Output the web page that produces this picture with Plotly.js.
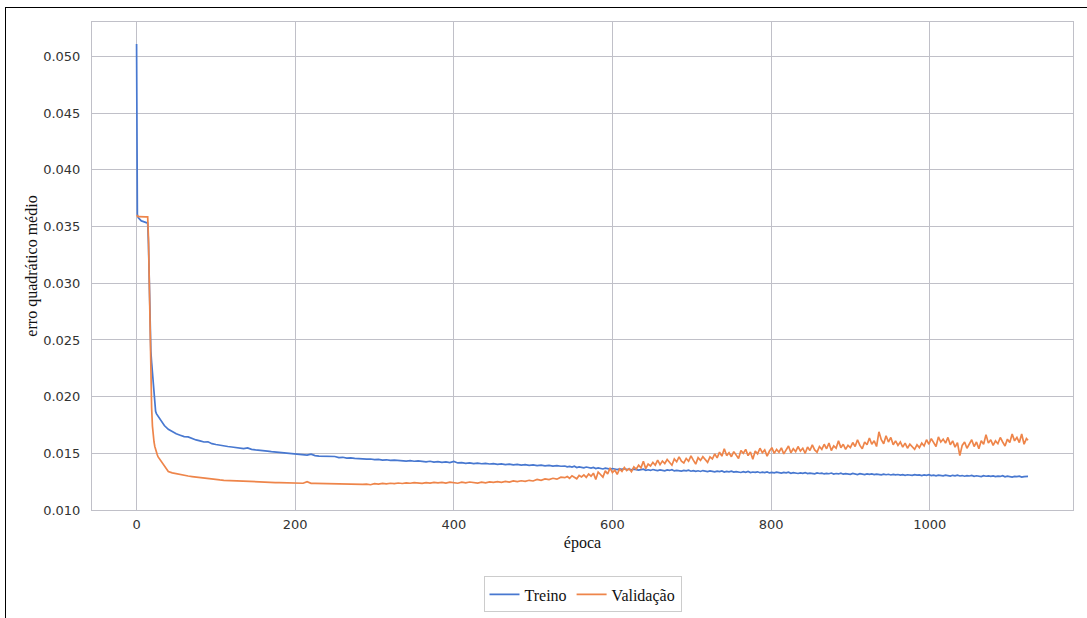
<!DOCTYPE html>
<html>
<head>
<meta charset="utf-8">
<script src="https://cdn.plot.ly/plotly-3.0.1.min.js"></script>
<style>
  html, body { margin: 0; padding: 0; background: #fff; }
  #wrap { position: relative; width: 1087px; height: 618px; overflow: hidden; }
  #chart { position: absolute; left: 0; top: 0; width: 1087px; height: 618px; }
  #frame { position: absolute; left: 5px; top: 7px; width: 1090px; height: 620px;
           border-left: 1.5px solid #000; border-top: 1.5px solid #000; pointer-events: none; }
</style>
</head>
<body>
<div id="wrap">
  <div id="chart"></div>
  <div id="frame"></div>
</div>
<script>
const epochs = [
  0,1,2,3,4,5,6,7,8,9,10,11,12,13,14,15,16,17,18,19,20,21,22,23,24,25,26,27,28,29,30,
  35,40,45,50,55,60,65,70,75,80,
  85,90,95,100,105,110,115,120,125,130,
  135,140,145,150,155,160,165,170,175,180,
  185,190,195,200,205,210,215,220,225,230,
  235,240,245,250,255,260,265,270,275,280,
  285,290,295,300,305,310,315,320,325,330,
  335,340,345,350,355,360,365,370,375,380,
  385,390,395,400,405,410,415,420,425,430,
  435,440,445,450,455,460,465,470,475,480,
  485,490,495,500,505,510,515,520,525,530,
  535,
  540,543,546,549,552,555,558,561,564,567,
  570,573,576,579,582,585,588,591,594,597,
  600,603,606,609,612,615,618,621,624,627,
  630,633,636,639,642,645,648,651,654,657,
  660,663,666,669,672,675,678,681,684,687,
  690,693,696,699,702,705,708,711,714,717,
  720,723,726,729,732,735,738,741,744,747,
  750,753,756,759,762,765,768,771,774,777,
  780,783,786,789,792,795,798,801,804,807,
  810,813,816,819,822,825,828,831,834,837,
  840,843,846,849,852,855,858,861,864,867,
  870,873,876,879,882,885,888,891,894,897,
  900,903,906,909,912,915,918,921,924,927,
  930,933,936,939,942,945,948,951,954,957,
  960,963,966,969,972,975,978,981,984,987,
  990,993,996,999,1002,1005,1008,1011,1014,1017,
  1020,1023,1026,1029,1032,1035,1038,1041,1044,1047,
  1050,1053,1056,1059,1062,1065,1068,1071,1074,1077,
  1080,1083,1086,1089,1092,1095,1098,1101,1104,1107,
  1110,1113,1116,1119,1122,
  1124
];

const treino = [
  0.0511,0.0361,0.0358,0.0357,0.0356,0.03555,0.0355,0.03548,0.03545,0.03543,0.0354,0.03538,0.03536,0.03535,0.0353,
  0.0335,0.0300,0.0265,0.0240,0.0230,0.0222,0.0210,0.0199,0.0191,0.0187,0.0185,0.0184,0.0182,0.0181,0.0180,0.0179,
  0.01745,0.01712,0.01690,0.01672,0.01660,0.01648,0.01645,0.01628,0.01618,0.01610,
  0.01600,0.01602,0.01585,0.01578,0.01570,0.01565,0.01560,0.01556,0.01550,0.01548,
  0.01542,0.01548,0.01535,0.01530,0.01528,0.01522,0.01520,0.01515,0.01512,0.01508,
  0.01505,0.01502,0.01498,0.01495,0.01490,0.01488,0.01485,0.01492,0.01480,0.01476,
  0.01475,0.01470,0.01468,0.01472,0.01462,0.01465,0.01458,0.01460,0.01455,0.01452,
  0.01455,0.01448,0.01450,0.01445,0.01447,0.01440,0.01443,0.01438,0.01440,0.01436,
  0.01438,0.01432,0.01435,0.01430,0.01433,0.01428,0.01425,0.01430,0.01422,0.01426,
  0.01420,0.01424,0.01418,0.01428,0.01415,0.01418,0.01412,0.01416,0.01410,0.01414,
  0.01408,0.01412,0.01406,0.01409,0.01402,0.01406,0.01400,0.01404,0.01398,0.01402,
  0.01396,0.01400,0.01394,0.01398,0.01392,0.01395,0.01390,0.01394,0.01388,0.01392,
  0.01386,
  0.01388,0.01380,0.01384,0.01378,0.01386,0.01375,0.01381,0.01377,0.01372,0.01379,
  0.01374,0.01370,0.01376,0.01366,0.01371,0.01368,0.01362,0.01369,0.01364,0.01360,
  0.01366,0.01361,0.01357,0.01363,0.01359,0.01365,0.01356,0.01360,0.01354,0.01361,
  0.01358,0.01352,0.01356,0.01360,0.01350,0.01355,0.01349,0.01357,0.01352,0.01348,
  0.01354,0.01350,0.01346,0.01353,0.01349,0.01356,0.01345,0.01350,0.01347,0.01343,
  0.01349,0.01345,0.01351,0.01342,0.01347,0.01341,0.01346,0.01340,0.01348,0.01343,
  0.01339,0.01345,0.01341,0.01336,0.01343,0.01338,0.01344,0.01335,0.01340,0.01337,
  0.01342,0.01334,0.01339,0.01335,0.01331,0.01338,0.01333,0.01340,0.01330,0.01335,
  0.01332,0.01337,0.01329,0.01334,0.01330,0.01336,0.01327,0.01332,0.01328,0.01334,
  0.01329,0.01325,0.01331,0.01327,0.01333,0.01324,0.01329,0.01326,0.01322,0.01328,
  0.01324,0.01330,0.01321,0.01326,0.01323,0.01319,0.01327,0.01322,0.01325,0.01318,
  0.01323,0.01320,0.01326,0.01317,0.01322,0.01318,0.01324,0.01316,0.01321,0.01319,
  0.01315,0.01322,0.01317,0.01313,0.01320,0.01316,0.01312,0.01319,0.01314,0.01318,
  0.01312,0.01317,0.01313,0.01310,0.01316,0.01311,0.01315,0.01309,0.01314,0.01310,
  0.01313,0.01308,0.01312,0.01306,0.01311,0.01309,0.01305,0.01312,0.01307,0.01310,
  0.01304,0.01309,0.01306,0.01311,0.01303,0.01307,0.01302,0.01308,0.01305,0.01301,
  0.01307,0.01303,0.01299,0.01306,0.01302,0.01308,0.01300,0.01304,0.01298,0.01303,
  0.01300,0.01305,0.01297,0.01302,0.01299,0.01295,0.01303,0.01298,0.01301,0.01296,
  0.01300,0.01294,0.01299,0.01296,0.01302,0.01293,0.01298,0.01295,0.01291,0.01297,
  0.01294,0.01298,0.01290,0.01295,0.01292,
  0.01296
];

const validacao = [
  0.0360,0.0359,0.03588,0.03588,0.03587,0.03588,0.03587,0.03587,0.03588,0.03587,0.03587,0.03586,0.03587,0.03586,0.03586,
  0.0340,0.0295,0.0250,0.0215,0.0190,0.0174,0.0165,0.0160,0.0156,0.0153,0.0151,0.0149,0.0147,0.0146,0.0145,0.0144,
  0.01395,0.01340,0.01328,0.01320,0.01312,0.01305,0.01300,0.01295,0.01290,0.01285,
  0.01280,0.01276,0.01272,0.01268,0.01265,0.01262,0.01260,0.01258,0.01256,0.01254,
  0.01252,0.01250,0.01249,0.01248,0.01246,0.01245,0.01244,0.01243,0.01242,0.01242,
  0.01241,0.01240,0.01239,0.01238,0.01237,0.01236,0.01250,0.01235,0.01234,0.01233,
  0.01232,0.01231,0.01233,0.01229,0.01230,0.01226,0.01228,0.01224,0.01226,0.01222,
  0.01226,0.01228,0.01223,0.01232,0.01228,0.01234,0.01230,0.01236,0.01232,0.01238,
  0.01234,0.01240,0.01236,0.01242,0.01238,0.01235,0.01241,0.01237,0.01243,0.01239,
  0.01244,0.01238,0.01246,0.01240,0.01236,0.01245,0.01240,0.01247,0.01241,0.01238,
  0.01246,0.01240,0.01248,0.01243,0.01250,0.01244,0.01252,0.01246,0.01256,0.01250,
  0.01258,0.01252,0.01262,0.01256,0.01270,0.01262,0.01274,0.01268,0.01280,0.01272,
  0.01290,
  0.01285,0.01296,0.01280,0.01302,0.01290,0.01275,0.01305,0.01292,0.01310,0.01288,
  0.01318,0.01298,0.01325,0.01270,0.01335,0.01310,0.01290,0.01345,0.01318,0.01372,
  0.01330,0.01352,0.01315,0.01362,0.01340,0.01375,0.01348,0.01365,0.01338,0.01380,
  0.01360,0.01395,0.01372,0.01430,0.01365,0.01405,0.01388,0.01420,0.01395,0.01440,
  0.01400,0.01432,0.01410,0.01445,0.01418,0.01395,0.01450,0.01425,0.01468,0.01430,
  0.01415,0.01455,0.01430,0.01478,0.01440,0.01405,0.01462,0.01438,0.01470,0.01445,
  0.01420,0.01468,0.01450,0.01495,0.01460,0.01510,0.01475,0.01540,0.01480,0.01505,
  0.01470,0.01515,0.01490,0.01455,0.01525,0.01500,0.01535,0.01480,0.01512,0.01448,
  0.01520,0.01495,0.01545,0.01505,0.01530,0.01475,0.01520,0.01550,0.01500,0.01535,
  0.01510,0.01548,0.01495,0.01530,0.01565,0.01505,0.01540,0.01515,0.01560,0.01520,
  0.01545,0.01500,0.01555,0.01525,0.01575,0.01530,0.01510,0.01560,0.01535,0.01580,
  0.01540,0.01590,0.01525,0.01565,0.01545,0.01610,0.01550,0.01580,0.01535,0.01570,
  0.01550,0.01595,0.01560,0.01620,0.01570,0.01540,0.01600,0.01575,0.01635,0.01580,
  0.01610,0.01560,0.01690,0.01620,0.01585,0.01655,0.01600,0.01640,0.01575,0.01610,
  0.01570,0.01600,0.01555,0.01590,0.01545,0.01580,0.01560,0.01535,0.01575,0.01550,
  0.01590,0.01565,0.01620,0.01580,0.01630,0.01595,0.01560,0.01645,0.01600,0.01625,
  0.01590,0.01640,0.01575,0.01610,0.01555,0.01595,0.01480,0.01570,0.01600,0.01545,
  0.01585,0.01620,0.01560,0.01600,0.01540,0.01610,0.01580,0.01665,0.01590,0.01620,
  0.01570,0.01610,0.01585,0.01640,0.01600,0.01565,0.01625,0.01595,0.01670,0.01610,
  0.01640,0.01595,0.01670,0.01580,0.01630,
  0.01615
];

const xTicks = [0, 200, 400, 600, 800, 1000];
const yTicks = [0.010, 0.015, 0.020, 0.025, 0.030, 0.035, 0.040, 0.045, 0.050];
const seriesNames = ['Treino', 'Validação'];

const gridColor = '#c0c0c8';
const tickFont = { family: 'DejaVu Sans', size: 13, color: '#333333' };
const serifFont = { family: 'Liberation Serif', size: 16, color: '#111111' };
const legendFont = { family: 'Liberation Serif', size: 16, color: '#111111' };

const traces = [
  { x: epochs, y: treino, name: seriesNames[0], type: 'scatter', mode: 'lines',
    line: { color: '#4878d0', width: 1.7 } },
  { x: epochs, y: validacao, name: seriesNames[1], type: 'scatter', mode: 'lines',
    line: { color: '#ee854a', width: 1.7 } }
];

const layout = {
  width: 1087, height: 618,
  margin: { l: 92, r: 14, t: 22, b: 108, autoexpand: false },
  paper_bgcolor: 'rgba(0,0,0,0)',
  plot_bgcolor: '#ffffff',
  showlegend: true,
  hovermode: false,
  xaxis: {
    range: [-56.2, 1180.7],
    tickmode: 'array', tickvals: xTicks, ticktext: xTicks.map(String),
    showgrid: true, gridcolor: gridColor, gridwidth: 1,
    zeroline: false, showline: true, linecolor: gridColor, linewidth: 1, mirror: true,
    ticks: '', tickfont: tickFont, automargin: false, ticklabelstandoff: 2,
    title: { text: 'época', font: serifFont, standoff: 6 }
  },
  yaxis: {
    range: [0.010, 0.05305],
    tickmode: 'array', tickvals: yTicks, ticktext: yTicks.map(v => v.toFixed(3)),
    showgrid: true, gridcolor: gridColor, gridwidth: 1,
    zeroline: false, showline: true, linecolor: gridColor, linewidth: 1, mirror: true,
    ticks: '', tickfont: tickFont, automargin: false, ticklabelstandoff: 8,
    title: { text: 'erro quadrático médio', font: serifFont, standoff: 1 }
  },
  legend: {
    orientation: 'h', x: 0.5, xanchor: 'center',
    yref: 'container', y: 0.009, yanchor: 'bottom',
    bordercolor: '#cccccc', borderwidth: 1, bgcolor: '#ffffff',
    font: legendFont, itemwidth: 30, tracegroupgap: 0
  }
};

Plotly.newPlot('chart', traces, layout, { displayModeBar: false, staticPlot: true });
</script>
</body>
</html>
